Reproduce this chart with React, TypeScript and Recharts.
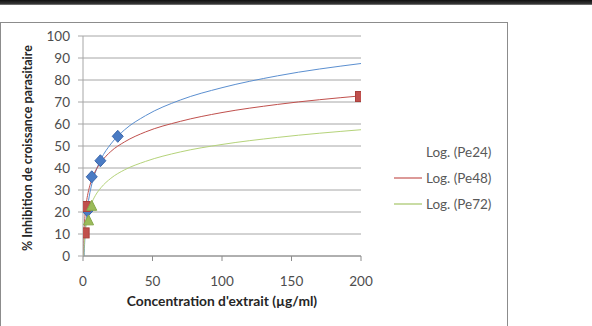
import { CartesianGrid, ComposedChart, Line, Scatter, XAxis, YAxis } from 'recharts';

const xTicks = [0, 50, 100, 150, 200];
const yTicks = [0, 10, 20, 30, 40, 50, 60, 70, 80, 90, 100];

// measured inhibition (%) vs extract concentration (µg/ml)
const pe24Points = [
  { x: 3.2, y: 20.5 },
  { x: 6.3, y: 36 },
  { x: 12.5, y: 43.3 },
  { x: 25, y: 54.4 },
];
const pe48Points = [
  { x: 0.45, y: 10.5 },
  { x: 1.15, y: 22.5 },
  { x: 200, y: 72.5 },
];
const pe72Points = [
  { x: 4, y: 16.2 },
  { x: 6.3, y: 22.8 },
];

// logarithmic trend lines, sampled along each curve
const pe24Trend = [
  { x: 0.81, y: 0 }, { x: 1, y: 3.3 }, { x: 1.5, y: 9.7 }, { x: 2, y: 14.3 },
  { x: 3, y: 20.8 }, { x: 4, y: 25.3 }, { x: 6, y: 31.8 }, { x: 9, y: 38.2 },
  { x: 13, y: 44.1 }, { x: 20, y: 50.9 }, { x: 30, y: 57.4 }, { x: 45, y: 63.8 },
  { x: 70, y: 70.9 }, { x: 100, y: 76.5 }, { x: 140, y: 81.9 }, { x: 200, y: 87.5 },
];
const pe48Trend = [
  { x: 0.27, y: 0 }, { x: 0.4, y: 4.4 }, { x: 0.6, y: 8.9 }, { x: 1, y: 14.5 },
  { x: 1.5, y: 19 }, { x: 2, y: 22.1 }, { x: 3, y: 26.6 }, { x: 4, y: 29.7 },
  { x: 6, y: 34.2 }, { x: 9, y: 38.7 }, { x: 13, y: 42.7 }, { x: 20, y: 47.5 },
  { x: 30, y: 51.9 }, { x: 45, y: 56.4 }, { x: 70, y: 61.2 }, { x: 100, y: 65.2 },
  { x: 140, y: 68.9 }, { x: 200, y: 72.8 },
];
const pe72Trend = [
  { x: 0.51, y: 0 }, { x: 0.7, y: 3.1 }, { x: 1, y: 6.5 }, { x: 1.5, y: 10.4 },
  { x: 2, y: 13.2 }, { x: 3, y: 17 }, { x: 4, y: 19.8 }, { x: 6, y: 23.7 },
  { x: 9, y: 27.6 }, { x: 13, y: 31.1 }, { x: 20, y: 35.3 }, { x: 30, y: 39.2 },
  { x: 45, y: 43 }, { x: 70, y: 47.3 }, { x: 100, y: 50.7 }, { x: 140, y: 53.9 },
  { x: 200, y: 57.4 },
];

const legendItems = [
  { label: 'Log. (Pe24)', color: 'transparent' },
  { label: 'Log. (Pe48)', color: '#dc9a98' },
  { label: 'Log. (Pe72)', color: '#c9dca4' },
];

const font = 'Lato, "Open Sans", sans-serif';
const tickStyle = { fontSize: 13.5, fill: '#4d4d4d', fontFamily: font };

const Diamond = (p: any) => (
  <polygon
    points={`${p.cx},${p.cy - 6} ${p.cx + 5.5},${p.cy} ${p.cx},${p.cy + 6} ${p.cx - 5.5},${p.cy}`}
    fill="#4a7bc4"
    stroke="#3b66aa"
    strokeWidth={1}
  />
);
const Square = (p: any) => (
  <rect x={p.cx - 5.5} y={p.cy - 5} width={11} height={10} fill="#c0504d" stroke="#a8403d" strokeWidth={1} />
);
const Triangle = (p: any) => (
  <polygon
    points={`${p.cx},${p.cy - 5.5} ${p.cx + 5},${p.cy + 4.5} ${p.cx - 5},${p.cy + 4.5}`}
    fill="#9bbb59"
    stroke="#86a84a"
    strokeWidth={1}
  />
);

function LegendBox() {
  return (
    <div style={{ position: 'absolute', left: 394, top: 139, fontFamily: font, fontSize: 13.5, color: '#595959' }}>
      {legendItems.map((item) => (
        <div key={item.label} style={{ display: 'flex', alignItems: 'center', height: 26 }}>
          <span style={{ width: 28, height: 2, background: item.color, marginRight: 4 }} />
          <span>{item.label}</span>
        </div>
      ))}
    </div>
  );
}

export default function App() {
  return (
    <div style={{ position: 'absolute', left: 0, top: 0, width: 592, height: 326, background: '#fff', overflow: 'hidden' }}>
      <div style={{ position: 'absolute', left: 0, top: 0, width: 592, height: 5, background: 'linear-gradient(#111, #333 70%, #888)' }} />
      <div style={{ position: 'absolute', left: 0, top: 22, width: 506, height: 320, border: '1px solid #8c8c8c' }} />
      <div style={{ position: 'absolute', left: 0, top: 0 }}>
        <ComposedChart width={592} height={326} margin={{ top: 36, right: 231, bottom: 0, left: 0 }}>
          <CartesianGrid horizontal vertical={false} stroke="#a6a6a6" />
          <XAxis
            type="number"
            dataKey="x"
            domain={[0, 200]}
            ticks={xTicks}
            interval={0}
            height={70}
            tick={tickStyle}
            tickSize={5}
            tickMargin={15}
            stroke="#8c8c8c"
            allowDataOverflow
          />
          <YAxis
            type="number"
            dataKey="y"
            domain={[0, 100]}
            ticks={yTicks}
            interval={0}
            width={83}
            tick={tickStyle}
            tickSize={5}
            tickMargin={8}
            stroke="#a6a6a6"
            allowDataOverflow
          />
          <Line data={pe24Trend} dataKey="y" type="monotone" stroke="#5b8fd0" strokeWidth={1} dot={false} isAnimationActive={false} />
          <Line data={pe48Trend} dataKey="y" type="monotone" stroke="#c0504d" strokeWidth={1} dot={false} isAnimationActive={false} />
          <Line data={pe72Trend} dataKey="y" type="monotone" stroke="#b5d37a" strokeWidth={1} dot={false} isAnimationActive={false} />
          <Scatter data={pe24Points} dataKey="y" shape={Diamond} isAnimationActive={false} />
          <Scatter data={pe48Points} dataKey="y" shape={Square} isAnimationActive={false} />
          <Scatter data={pe72Points} dataKey="y" shape={Triangle} isAnimationActive={false} />
        </ComposedChart>
      </div>
      <LegendBox />
      <div
        style={{
          position: 'absolute', left: 222 - 150, top: 291, width: 300, textAlign: 'center',
          fontFamily: font, fontWeight: 700, fontSize: 13.8, color: '#262626', lineHeight: '20px',
        }}
      >
        Concentration d'extrait (µg/ml)
      </div>
      <div
        style={{
          position: 'absolute', left: 28 - 150, top: 148 - 10, width: 300, height: 20, textAlign: 'center',
          fontFamily: font, fontWeight: 700, fontSize: 12.5, color: '#262626', lineHeight: '20px',
          transform: 'rotate(-90deg)',
        }}
      >
        % Inhibition de croissance parasitaire
      </div>
    </div>
  );
}
